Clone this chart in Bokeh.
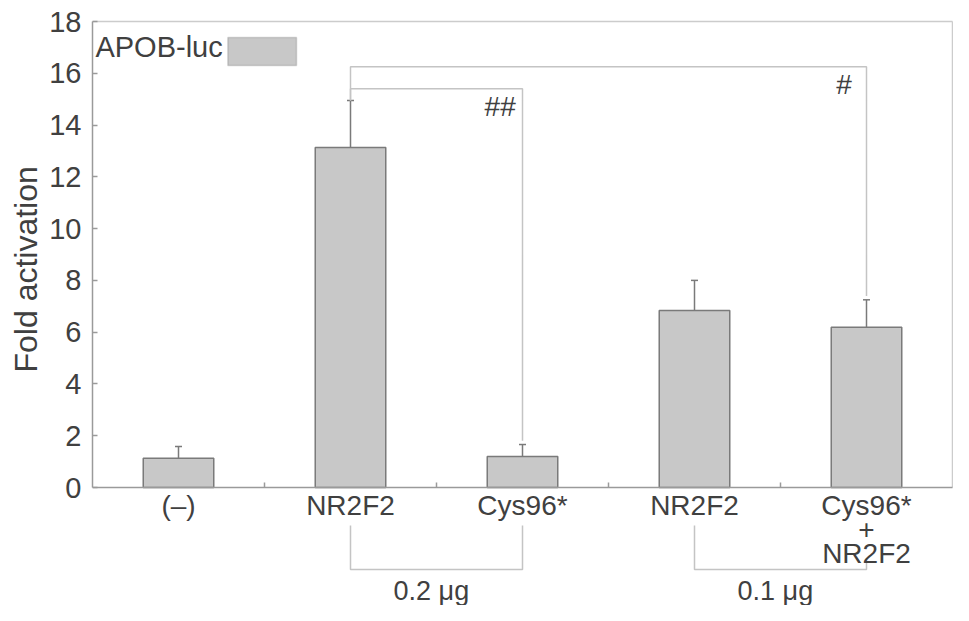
from bokeh.plotting import figure
from bokeh.models import (Range1d, FixedTicker, LinearAxis, ColumnDataSource,
                          Whisker, TeeHead, Label, BoxAnnotation, Title)
from bokeh.embed import file_html
from bokeh.resources import INLINE
from bokeh.core.properties import value

# ---------------- data ----------------
categories = ["(–)", "NR2F2", "Cys96*", "NR2F2", "Cys96*\n+\nNR2F2"]
fold = [1.13, 13.13, 1.20, 6.84, 6.19]
err_upper = [1.58, 14.95, 1.66, 8.00, 7.25]
y_ticks = [0, 2, 4, 6, 8, 10, 12, 14, 16, 18]
y_title = "Fold activation"
legend_label = "APOB-luc"
dose_labels = ["0.2 μg", "0.1 μg"]
dose_groups = [(1, 2), (3, 4)]
sig_labels = ["##", "#"]
sig_pairs = [(1, 2), (1, 4)]
sig_levels = [15.4, 16.25]

# ---------------- style ----------------
FONT = "Liberation Sans"
TXT = "#404040"
BAR_FILL = "#c8c8c8"
BAR_LINE = "#7a7a7a"
AXIS = "#9a9a9a"
FRAME = "#cccccc"
BRACKET = "#c4c4c4"

n = len(categories)
xs = [i + 0.5 for i in range(n)]
px_per_x = 172.0
px_per_y = 466 / 18.0
ymax = y_ticks[-1]
TOP = 18
FRAME_W = 861
FRAME_H = 587          # frame reaches below the axis to hold the dose brackets
BELOW_PX = FRAME_H - 3 - 466

p = figure(width=92 + FRAME_W, height=TOP + FRAME_H,
           frame_width=FRAME_W, frame_height=FRAME_H,
           min_border_left=92, min_border_right=0,
           min_border_top=TOP, min_border_bottom=0,
           x_range=Range1d(0, FRAME_W / px_per_x),
           y_range=Range1d(-BELOW_PX / px_per_y, ymax + 3 / px_per_y),
           x_axis_type=None, y_axis_type=None,
           toolbar_location=None, output_backend="svg")
p.outline_line_color = None
p.xgrid.visible = False
p.ygrid.visible = False
p.background_fill_color = "white"
p.border_fill_color = "white"

# top and right edges of the plotting box
p.line([0, n], [ymax, ymax], line_color=FRAME, line_width=1.5)
p.line([n, n], [0, ymax], line_color=FRAME, line_width=1.5)

# bars
src = ColumnDataSource(dict(x=xs, top=fold, upper=err_upper))
p.vbar(x="x", top="top", bottom=0, width=0.41, source=src,
       fill_color=BAR_FILL, line_color=BAR_LINE, line_width=1.5)

# error bars (upper only)
p.add_layout(Whisker(source=src, base="x", upper="upper", lower="top",
                     dimension="height", line_color=BAR_LINE, line_width=1.5,
                     upper_head=TeeHead(size=7, line_color=BAR_LINE, line_width=1.5),
                     lower_head=None))

# significance brackets
gap = 0.15
for (a, b), lvl, lab in zip(sig_pairs, sig_levels, sig_labels):
    p.line([xs[a], xs[a], xs[b], xs[b]],
           [err_upper[a], lvl, lvl, err_upper[b] + gap],
           line_color=BRACKET, line_width=1.5)
    p.text(x=[xs[b] - 0.13], y=[lvl - 0.7], text=[lab],
           text_font=value(FONT), text_font_size="28px", text_color=TXT,
           text_align="center", text_baseline="middle")

# dose brackets under the category labels
for (a, b), lab in zip(dose_groups, dose_labels):
    top_l = -38 / px_per_y
    top_r = top_l if "\n" not in categories[b] else -75 / px_per_y
    bot = -82 / px_per_y
    p.line([xs[a], xs[a], xs[b], xs[b]], [top_l, bot, bot, top_r],
           line_color=BRACKET, line_width=1.5)
    p.text(x=[(xs[a] + xs[b]) / 2 - 0.03], y=[-103 / px_per_y], text=[lab],
           text_font=value(FONT), text_font_size="27px", text_color=TXT,
           text_align="center", text_baseline="middle")

# x axis at y = 0 with category labels and boundary ticks
xaxis = LinearAxis(ticker=FixedTicker(ticks=xs, minor_ticks=[1, 2, 3, 4]),
                   fixed_location=0, bounds=(0, n))
xaxis.major_label_overrides = {x: c for x, c in zip(xs, categories)}
xaxis.major_tick_line_color = None
xaxis.minor_tick_in = 5
xaxis.minor_tick_out = 0
xaxis.minor_tick_line_color = AXIS
xaxis.minor_tick_line_width = 1.5
xaxis.axis_line_color = AXIS
xaxis.axis_line_width = 1.5
xaxis.major_label_standoff = -4
xaxis.major_label_text_font = FONT
xaxis.major_label_text_font_size = "28px"
xaxis.major_label_text_color = TXT
xaxis.major_label_text_line_height = 0.78
p.add_layout(xaxis, "below")

# y axis
yaxis = LinearAxis(ticker=FixedTicker(ticks=y_ticks), bounds=(0, ymax))
yaxis.major_tick_in = 5
yaxis.major_tick_out = 0
yaxis.major_tick_line_color = AXIS
yaxis.major_tick_line_width = 1.5
yaxis.minor_tick_line_color = None
yaxis.axis_line_color = AXIS
yaxis.axis_line_width = 1.5
yaxis.major_label_standoff = 11
yaxis.major_label_text_font = FONT
yaxis.major_label_text_font_size = "29px"
yaxis.major_label_text_color = TXT
p.add_layout(yaxis, "left")

# y-axis title, starting from the bottom of the frame and shifted up
p.add_layout(Title(text=y_title, align="left", offset=FRAME_H + TOP - 372, standoff=6,
                   text_font=FONT, text_font_size="32px", text_font_style="normal",
                   text_color=TXT), "left")

# legend: label followed by swatch
p.add_layout(Label(x=0.017, y=17.0, text=legend_label, text_font=FONT,
                   text_font_size="29px", text_color=TXT,
                   text_baseline="middle", text_align="left"))
p.add_layout(BoxAnnotation(left=0.787, right=1.186, bottom=16.3, top=17.38,
                           fill_color=BAR_FILL, fill_alpha=1.0,
                           line_color=BAR_LINE, line_width=1.5))

open("out.html", "w").write(file_html(p, INLINE))
